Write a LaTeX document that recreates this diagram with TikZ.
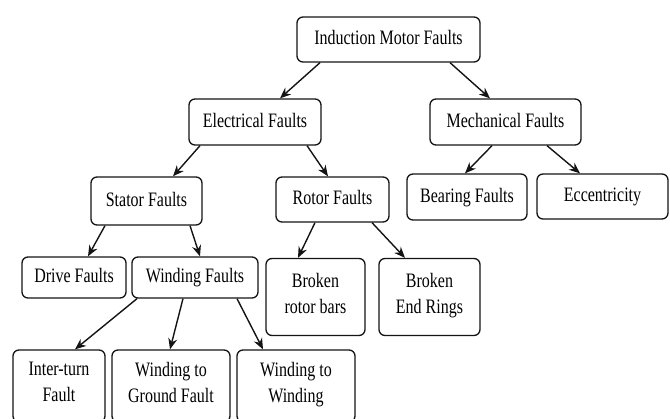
\documentclass[tikz,border=0pt]{standalone}
\usepackage{fontspec}
\setmainfont{Liberation Serif}[FakeStretch=0.78]
\usepackage{tikz}
\usetikzlibrary{arrows.meta, positioning}
\definecolor{mydark}{RGB}{20,20,20}
\tikzset{
  block/.style={rectangle, draw=mydark, fill=white, align=center,
    inner sep=0pt, rounded corners=6pt, line width=1.3pt,
    font=\fontsize{20.5}{26}\selectfont,
    execute at begin node=\strut, execute at end node=\strut},
  arrow/.style={-{Stealth[length=11pt, width=9pt]}, line width=1.4pt, color=mydark}
}
\begin{document}
\begin{tikzpicture}[x=1pt, y=-1pt]
  \useasboundingbox (0,0) rectangle (670,419);
  % Levels
  \node[block, minimum width=183pt, minimum height=45pt] (root) at (388.5, 39.5) {Induction Motor Faults};

  \node[block, minimum width=132pt, minimum height=46pt] (elec) at (255, 122) {Electrical Faults};
  \node[block, minimum width=151pt, minimum height=46pt] (mech) at (505.5, 122) {Mechanical Faults};

  \node[block, minimum width=111pt, minimum height=48pt] (stator) at (146.5, 201) {Stator Faults};
  \node[block, minimum width=113pt, minimum height=45pt] (rotor) at (332.5, 199.5) {Rotor Faults};
  \node[block, minimum width=120pt, minimum height=46pt] (bearing) at (467, 197) {Bearing Faults};
  \node[block, minimum width=131pt, minimum height=45pt] (ecc) at (602.5, 196.5) {Eccentricity};

  \node[block, minimum width=104pt, minimum height=41pt] (drive) at (74, 277.5) {Drive Faults};
  \node[block, minimum width=126pt, minimum height=41pt] (winding) at (195, 277.5) {Winding Faults};
  \node[block, minimum width=99pt, minimum height=77pt] (bars) at (315.5, 297) {Broken\\rotor bars};
  \node[block, minimum width=101pt, minimum height=77pt] (rings) at (429.5, 297) {Broken\\End Rings};

  \node[block, minimum width=92pt, minimum height=72pt] (inter) at (59, 386) {Inter-turn\\Fault};
  \node[block, minimum width=118pt, minimum height=72pt] (ground) at (171, 386) {Winding to\\Ground Fault};
  \node[block, minimum width=118pt, minimum height=72pt] (wtw) at (296, 386) {Winding to\\Winding};

  % Arrows
  \draw[arrow] ([xshift=-68.5pt]root.south) -- ([xshift=25pt]elec.north);
  \draw[arrow] ([xshift=61.5pt]root.south) -- ([xshift=-15.5pt]mech.north);
  \draw[arrow] ([xshift=-55pt]elec.south) -- ([xshift=26.5pt]stator.north);
  \draw[arrow] ([xshift=52pt]elec.south) -- ([xshift=-4.5pt]rotor.north);
  \draw[arrow] ([xshift=-13.5pt]mech.south) -- ([xshift=-2pt]bearing.north);
  \draw[arrow] ([xshift=41.5pt]mech.south) -- ([xshift=-22.5pt]ecc.north);
  \draw[arrow] ([xshift=-41.5pt]stator.south) -- ([xshift=14pt]drive.north);
  \draw[arrow] ([xshift=43.5pt]stator.south) -- ([xshift=5pt]winding.north);
  \draw[arrow] ([xshift=-17.5pt]rotor.south) -- ([xshift=-17.5pt]bars.north);
  \draw[arrow] ([xshift=39.5pt]rotor.south) -- ([xshift=-24.5pt]rings.north);
  \draw[arrow] ([xshift=-58pt]winding.south) -- ([xshift=16pt]inter.north);
  \draw[arrow] ([xshift=-12pt]winding.south) -- ([xshift=-1pt]ground.north);
  \draw[arrow] ([xshift=42pt]winding.south) -- ([xshift=-33pt]wtw.north);
\end{tikzpicture}
\end{document}
